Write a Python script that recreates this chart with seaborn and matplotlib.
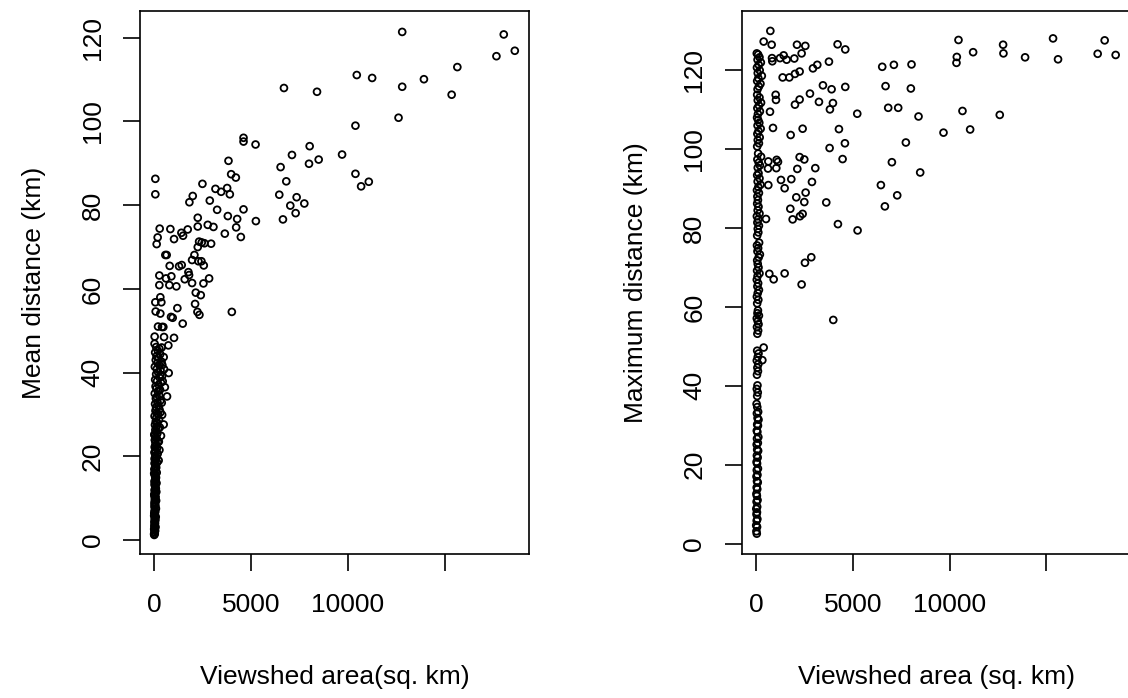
import matplotlib
matplotlib.use("Agg")
import matplotlib.pyplot as plt
import seaborn as sns
import pandas as pd

sns.set_style("white")
plt.rcParams["font.family"] = ["Liberation Sans", "DejaVu Sans"]

# ---------------- data ----------------
# Left panel: mean distance vs viewshed area, spread-out points
mean_area_spread = [12794, 18029, 18598, 17651, 15636, 10453, 11245, 13914, 12794, 6699,
                    8403, 15343, 12605, 10384, 4615, 4615, 5235, 8024, 9695, 7112,
                    8489, 3840, 7990, 6526, 3978, 4219, 10384, 69, 11072, 10676,
                    6819, 2497, 69, 3168, 3461, 3771, 3909, 1998, 1825, 6458,
                    7353, 2876, 7749, 7026, 7301, 6647, 5252, 4615, 3255, 2256,
                    3806, 4288, 4236, 4477, 3651, 2256, 2772, 3065, 293, 844,
                    1739, 1412, 1498, 1033, 189, 138, 2325, 2462, 2600, 2944,
                    2256, 585, 654, 2084, 1963, 2445, 2290, 2566, 809, 1291,
                    1429, 1774, 1808, 276, 620, 895, 1584, 2841, 1963, 2549,
                    276, 792, 1154, 2153, 2411, 4012, 327, 379, 69, 2118,
                    1205, 86, 327, 2239, 2342, 878, 964, 1481, 207, 413,
                    482, 34, 517, 1033, 740, 758, 672, 499]
mean_km_spread = [121.4, 120.8, 116.9, 115.6, 113.0, 111.1, 110.4, 110.1, 108.3, 108.0,
                  107.1, 106.4, 100.9, 99.0, 96.1, 95.2, 94.5, 94.1, 92.1, 92.0,
                  90.9, 90.6, 89.9, 89.1, 87.4, 86.6, 87.5, 86.3, 85.6, 84.5,
                  85.7, 85.1, 82.6, 83.9, 83.2, 84.1, 82.6, 82.2, 80.7, 82.5,
                  81.9, 81.1, 80.4, 79.9, 78.1, 76.6, 76.2, 79.0, 78.9, 77.0,
                  77.4, 76.7, 74.7, 72.4, 73.2, 74.9, 75.3, 74.8, 74.4, 74.3,
                  74.2, 73.4, 72.7, 71.9, 72.3, 70.7, 71.3, 71.1, 70.9, 70.8,
                  70.0, 68.1, 68.1, 68.1, 66.9, 66.6, 66.6, 65.6, 65.5, 65.4,
                  65.7, 64.0, 63.3, 63.2, 62.5, 63.0, 62.3, 62.5, 61.4, 61.3,
                  60.9, 60.9, 60.6, 59.1, 58.5, 54.5, 58.0, 56.8, 56.8, 56.4,
                  55.4, 54.6, 54.1, 54.5, 53.8, 53.3, 53.1, 51.7, 51.0, 50.9,
                  50.9, 48.6, 48.5, 48.3, 46.5, 39.9, 34.3, 27.6]

# Left panel: dense column of small viewsheds
mean_area_column = [15, 40, 25, 60, 10, 45, 80, 30, 55, 20, 70, 35, 90, 50, 15, 65, 40, 100, 25, 75,
                    55, 30, 110, 45, 85, 20, 60, 120, 35, 95, 70, 50, 130, 25, 80, 105, 60, 40, 140, 90,
                    20, 115, 65, 45, 160, 85, 30, 130, 70, 190, 55, 100, 150, 35, 120, 80, 200, 60, 250, 140,
                    95, 40, 175, 110, 70, 220, 130, 50, 170, 90, 260, 120, 30, 200, 150, 75, 280, 110, 230, 55,
                    180, 330, 95, 140, 260, 40, 200, 310, 125, 80, 240, 360, 160, 60, 290, 420, 110, 210, 340, 150,
                    45, 270, 180, 390, 90, 230, 130, 320, 60, 200, 280, 110, 30,
                    396, 500, 430, 520, 330, 450, 560, 400, 330, 420, 300, 360, 280, 240,
                    5, 35, 20, 50, 10, 40, 25, 60, 15, 45, 30, 75, 10, 55, 35, 90, 25, 65, 45, 15]
mean_km_column = [1.2, 1.5, 1.9, 2.2, 2.6, 2.9, 3.1, 3.6, 4.0, 4.3, 4.8, 5.1, 5.5, 5.9, 6.4, 6.7, 7.0, 7.5, 7.9, 8.2,
                  8.8, 9.1, 9.4, 9.9, 10.3, 10.6, 11.1, 11.5, 11.8, 12.3, 12.7, 13.0, 13.6, 14.0, 14.3, 14.9, 15.2, 15.6, 16.1, 16.4,
                  16.9, 17.3, 17.6, 18.2, 18.5, 18.9, 19.4, 19.8, 20.1, 20.6, 21.0, 21.3, 21.9, 22.2, 22.6, 23.1, 23.4, 23.8, 23.5, 24.3,
                  24.6, 25.0, 25.5, 25.8, 26.3, 26.7, 27.1, 27.5, 28.0, 28.3, 28.8, 29.2, 29.6, 30.1, 30.4, 30.9, 31.2, 31.7, 32.1, 32.5,
                  32.9, 33.3, 33.8, 34.2, 34.6, 35.0, 35.5, 35.9, 36.2, 36.7, 37.1, 37.6, 38.0, 38.3, 38.8, 39.2, 39.6, 40.1, 40.5, 40.9,
                  41.4, 41.8, 42.3, 42.6, 43.0, 43.5, 43.9, 44.4, 44.8, 45.2, 45.7, 46.1, 46.9,
                  46.0, 43.7, 41.8, 40.8, 39.5, 37.9, 36.5, 32.8, 30.5, 29.9, 26.9, 24.9, 21.5, 19.0,
                  1.4, 2.4, 3.3, 4.6, 5.8, 6.9, 8.5, 9.6, 10.9, 12.1, 13.3, 14.6, 15.9, 17.0, 18.4, 19.6, 20.9, 22.4, 23.9, 25.2]

# Right panel: maximum distance vs viewshed area, spread-out points
max_area_spread = [740, 396, 808, 2116, 2546, 2356, 4214, 4610, 10458, 15342,
                   18008, 12762, 11214, 12780, 10372, 10354, 13898, 15600, 17647, 18576,
                   826, 843, 1238, 1428, 1582, 1978, 1376, 1720, 2012, 2253,
                   2941, 3165, 3767, 6519, 7121, 8032, 3457, 3904, 4610, 6691,
                   7998, 2786, 2253, 2012, 3251, 3973, 3818, 5229, 6828, 7344,
                   8394, 10664, 12590, 1015, 1032, 722, 877, 1789, 2408, 4283,
                   9684, 11060, 3801, 4592, 7740, 4472, 2253, 2494, 1066, 1135,
                   636, 619, 1049, 2133, 3062, 7018, 8480, 1290, 1823, 636,
                   1479, 2890, 2563, 2081, 2494, 3629, 6450, 7293, 6656, 1772,
                   1892, 2270, 2408, 516, 4231, 5246, 2855, 2528, 688, 912,
                   1479, 2356, 3990, 396, 327]
max_km_spread = [130.0, 127.3, 126.5, 126.5, 126.2, 124.3, 126.6, 125.3, 127.7, 128.1,
                 127.6, 126.5, 124.6, 124.3, 123.4, 121.9, 123.3, 122.8, 124.2, 123.9,
                 123.1, 122.3, 123.1, 123.8, 122.7, 123.0, 118.2, 118.2, 119.1, 119.7,
                 120.5, 121.4, 122.2, 120.9, 121.4, 121.5, 116.2, 115.2, 115.8, 116.0,
                 115.4, 114.1, 112.6, 111.3, 112.0, 111.7, 110.1, 109.0, 110.5, 110.5,
                 108.3, 109.7, 108.7, 113.8, 112.5, 109.5, 105.4, 103.6, 105.2, 105.1,
                 104.2, 105.0, 100.3, 101.5, 101.7, 97.5, 98.0, 97.4, 97.3, 96.8,
                 96.9, 95.1, 95.2, 95.0, 95.2, 96.7, 94.1, 92.2, 92.4, 90.9,
                 90.1, 91.7, 89.0, 87.8, 86.6, 86.5, 90.9, 88.3, 85.5, 84.9,
                 82.2, 83.0, 83.6, 82.3, 81.0, 79.4, 72.6, 71.2, 68.4, 67.0,
                 68.5, 65.7, 56.7, 49.7, 46.5]

# Right panel: dense column of small viewsheds
max_area_column = [40, 20, 55, 10, 35, 70, 25, 50, 15, 60, 30, 80, 45, 20, 65, 35, 90, 50, 25, 75,
                   40, 100, 55, 30, 85, 45, 110, 60, 35, 95, 50, 120, 70, 40, 100, 60, 130, 80, 45, 110,
                   65, 30,
                   60, 90, 40, 75,
                   50, 100, 70, 120, 40, 90, 130, 60,
                   70, 110, 50, 130, 90, 40, 150, 75, 100,
                   60, 120, 45, 90, 150, 70, 110, 40, 80, 180, 55, 130,
                   90, 60, 140, 200, 75, 110, 50, 160,
                   60, 120, 90, 150, 70, 110, 45, 180, 85, 130, 60,
                   100, 70, 150, 50, 120, 230, 85, 180, 60, 130,
                   90, 200, 140, 70, 260, 110,
                   60, 150, 90, 190, 70, 130, 240, 80, 170, 110, 55,
                   100, 200, 70, 150, 260, 90, 180, 60,
                   80, 150, 230, 60, 120, 300, 90, 190, 50, 140, 250, 80, 180, 110, 40]
max_km_column = [2.5, 3.1, 4.2, 4.6, 5.8, 6.2, 7.4, 7.9, 8.8, 9.3, 10.6, 11.0, 12.1, 12.6, 13.8, 14.2, 15.5, 15.8, 17.0, 17.4,
                 18.6, 19.0, 20.3, 20.7, 21.8, 22.3, 23.5, 23.8, 25.1, 25.5, 26.6, 27.0, 28.3, 28.6, 29.9, 30.2, 31.4, 31.8, 33.0, 33.4,
                 34.6, 35.4,
                 37.4, 38.3, 39.2, 40.1,
                 42.8, 43.7, 44.6, 45.5, 46.4, 47.3, 48.2, 48.9,
                 53.2, 54.0, 54.9, 55.6, 56.4, 57.1, 57.8, 58.4, 59.1,
                 60.9, 61.8, 62.6, 63.5, 64.3, 65.2, 66.0, 66.9, 67.8, 68.5, 69.2, 70.0,
                 70.9, 71.8, 72.6, 73.3, 74.1, 74.9, 75.6, 76.3,
                 78.1, 78.9, 79.8, 80.6, 81.4, 82.2, 83.0, 83.7, 84.5, 85.4, 86.2,
                 87.1, 88.0, 88.9, 89.6, 90.4, 91.0, 91.8, 92.6, 93.4, 93.9,
                 95.3, 95.9, 96.6, 97.4, 98.1, 98.9,
                 100.7, 101.5, 102.3, 103.0, 103.9, 104.6, 105.2, 106.0, 106.7, 107.4, 108.0,
                 108.9, 109.6, 110.4, 111.1, 111.8, 112.4, 113.1, 113.8,
                 115.2, 115.9, 116.6, 117.3, 118.0, 118.6, 119.3, 120.0, 120.7, 121.4, 122.0, 122.7, 123.3, 124.0, 124.3]

x_ticks = [0, 5000, 10000, 15000]
x_tick_labels = ["0", "5000", "10000", ""]
y_ticks = [0, 20, 40, 60, 80, 100, 120]
x_label_left = "Viewshed area(sq. km)"
x_label_right = "Viewshed area (sq. km)"
y_label_left = "Mean distance (km)"
y_label_right = "Maximum distance (km)"

df_mean = pd.DataFrame({"area": mean_area_spread + mean_area_column,
                        "dist": mean_km_spread + mean_km_column})
df_max = pd.DataFrame({"area": max_area_spread + max_area_column,
                       "dist": max_km_spread + max_km_column})

# ---------------- figure ----------------
W, H = 1128, 698
fig = plt.figure(figsize=(W / 100, H / 100), dpi=100)
ax1 = fig.add_axes([140 / W, (H - 554) / H, 389 / W, 543 / H])
ax2 = fig.add_axes([741.7 / W, (H - 554) / H, 389 / W, 543 / H])

FS = 19


def draw(ax, df, xlim, ylim, xlabel, ylabel):
    sns.scatterplot(data=df, x="area", y="dist", ax=ax, marker="o",
                    legend=False, clip_on=False)
    coll = ax.collections[-1]
    coll.set_sizes([24])
    coll.set_facecolor("none")
    coll.set_edgecolor("black")
    coll.set_linewidth(1.3)
    ax.set_xlim(*xlim)
    ax.set_ylim(*ylim)
    ax.set_xticks(x_ticks)
    ax.set_xticklabels(x_tick_labels)
    ax.set_yticks(y_ticks)
    ax.set_yticklabels([str(v) for v in y_ticks])
    for sp in ax.spines.values():
        sp.set_visible(True)
        sp.set_color("black")
        sp.set_linewidth(1.2)
    ax.tick_params(axis="both", direction="out", length=12.5, width=1.2,
                   color="black", labelsize=FS, labelcolor="black")
    ax.tick_params(axis="x", pad=15.5, bottom=True)
    ax.tick_params(axis="y", pad=13, left=True, labelrotation=90)
    for t in ax.get_yticklabels():
        t.set_va("center")
    ax.set_xlabel(xlabel, fontsize=FS, color="black")
    ax.set_ylabel(ylabel, fontsize=FS, color="black")
    ax.xaxis.set_label_coords(0.5, -123 / 543)
    ax.xaxis.label.set_va("center")
    ax.yaxis.set_label_coords(-106 / 389, 0.5)
    ax.yaxis.label.set_va("center")
    ax.grid(False)


draw(ax1, df_mean, (-721, 19330), (-3.35, 126.4), x_label_left, y_label_left)
draw(ax2, df_max, (-739, 19353), (-2.66, 135.05), x_label_right, y_label_right)

fig.savefig("out.png", dpi=100, facecolor="white")
